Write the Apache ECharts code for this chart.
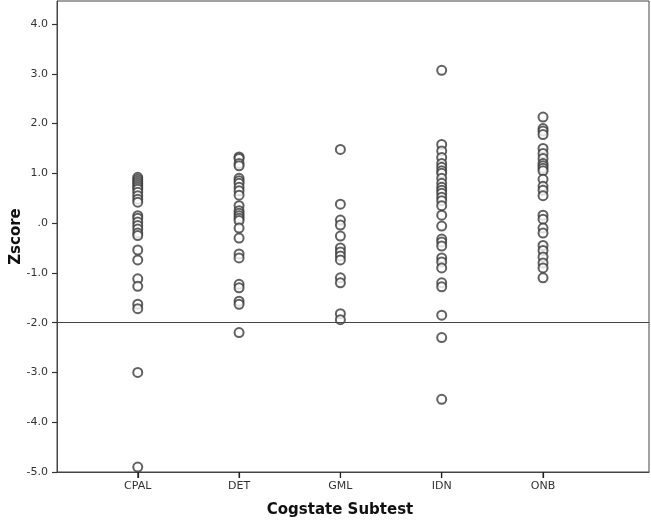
<!DOCTYPE html>
<html>
<head>
<meta charset="utf-8">
<script src="https://cdn.jsdelivr.net/npm/echarts@6/dist/echarts.min.js"></script>
<style>
  html, body { margin: 0; padding: 0; background: #fff; }
  #chart { width: 651px; height: 520px; }
</style>
</head>
<body>
<div id="chart"></div>
<script>
// subtests on the x axis, positions 1..5
var subtests = ['CPAL', 'DET', 'GML', 'IDN', 'ONB'];
var subtestPos = [1, 2, 3, 4, 5];

// z scores, one array per subtest
var cpal = [0.92, 0.88, 0.84, 0.80, 0.76, 0.72, 0.68, 0.62, 0.55, 0.48, 0.42, 0.15, 0.10, 0.02, -0.05, -0.12, -0.20, -0.25, -0.54, -0.74, -1.12, -1.27, -1.63, -1.72, -3.0, -4.9];
var det = [1.33, 1.30, 1.20, 1.15, 0.90, 0.85, 0.80, 0.72, 0.65, 0.56, 0.35, 0.25, 0.20, 0.15, 0.10, 0.05, -0.10, -0.30, -0.62, -0.70, -1.23, -1.30, -1.57, -1.63, -2.2];
var gml = [1.48, 0.38, 0.06, -0.04, -0.26, -0.50, -0.58, -0.66, -0.74, -1.10, -1.20, -1.82, -1.94];
var idn = [3.07, 1.58, 1.45, 1.32, 1.20, 1.12, 1.05, 1.00, 0.90, 0.80, 0.72, 0.66, 0.60, 0.52, 0.45, 0.35, 0.16, -0.06, -0.32, -0.38, -0.46, -0.70, -0.78, -0.90, -1.20, -1.28, -1.85, -2.30, -3.54];
var onb = [2.13, 1.90, 1.85, 1.78, 1.50, 1.40, 1.30, 1.20, 1.15, 1.10, 1.05, 0.88, 0.74, 0.66, 0.55, 0.16, 0.08, -0.10, -0.20, -0.45, -0.55, -0.68, -0.80, -0.90, -1.10];

var yTicks = [-5, -4, -3, -2, -1, 0, 1, 2, 3, 4];
var cutoff = -2;

var groups = [cpal, det, gml, idn, onb];
var points = [];
for (var g = 0; g < groups.length; g++) {
    for (var i = 0; i < groups[g].length; i++) {
        points.push([subtestPos[g], groups[g][i]]);
    }
}

// x ticks sit on the bottom of the y range, one per subtest
var xTickMarks = [];
for (var t = 0; t < subtestPos.length; t++) {
    xTickMarks.push([subtestPos[t], yTicks[0]]);
}

var labelFont = 'DejaVu Sans';
var mychart = echarts.init(document.getElementById('chart'));
var option = {
    animation: false,
    grid: {
        left: 57, right: 2, top: 1, bottom: 48,
        outerBoundsMode: 'none',
        containLabel: false,
        show: true, borderColor: '#444', borderWidth: 1
    },
    xAxis: {
        type: 'value',
        min: 0.203,
        max: 6.046,
        name: 'Cogstate Subtest',
        nameLocation: 'middle',
        nameGap: 31,
        nameMoveOverlap: false,
        nameTextStyle: { fontFamily: labelFont, fontSize: 15, fontWeight: 'bold', color: '#111', padding: [0, 26, 0, 0] },
        splitLine: { show: false },
        axisLine: { show: true, onZero: false, lineStyle: { color: '#444' } },
        axisTick: { show: true, customValues: subtestPos, length: 6, lineStyle: { color: '#222', width: 1.2 } },
        axisLabel: {
            customValues: subtestPos,
            margin: 9,
            fontFamily: labelFont, fontSize: 11, color: '#333',
            formatter: function (v) { return subtests[Math.round(v) - 1]; }
        }
    },
    yAxis: {
        type: 'value',
        min: -5,
        max: 4.462,
        name: 'Zscore',
        nameLocation: 'middle',
        nameGap: 33,
        nameMoveOverlap: false,
        nameTextStyle: { fontFamily: labelFont, fontSize: 15, fontWeight: 'bold', color: '#111' },
        splitLine: { show: false },
        axisLine: { show: true, onZero: false, lineStyle: { color: '#444' } },
        axisTick: { show: true, customValues: yTicks, length: 5, lineStyle: { color: '#333', width: 1.2 } },
        axisLabel: {
            customValues: yTicks,
            margin: 9,
            fontFamily: labelFont, fontSize: 11, color: '#333',
            formatter: function (v) { return v === 0 ? '.0' : v.toFixed(1); }
        }
    },
    series: [{
        type: 'scatter',
        data: points,
        symbol: 'emptyCircle',
        symbolSize: 9,
        itemStyle: { color: '#3a3a3a', borderWidth: 1 },
        markLine: {
            silent: true,
            symbol: 'none',
            label: { show: false },
            lineStyle: { color: '#444', width: 1, type: 'solid' },
            data: [{ yAxis: cutoff }]
        }
    }, {
        // short tick marks under each subtest
        type: 'scatter',
        data: xTickMarks,
        clip: false,
        silent: true,
        symbol: 'rect',
        symbolSize: [1.2, 6],
        symbolOffset: [0, 3],
        itemStyle: { color: '#222' },
        z: 1
    }]
};
mychart.setOption(option);
</script>
</body>
</html>
